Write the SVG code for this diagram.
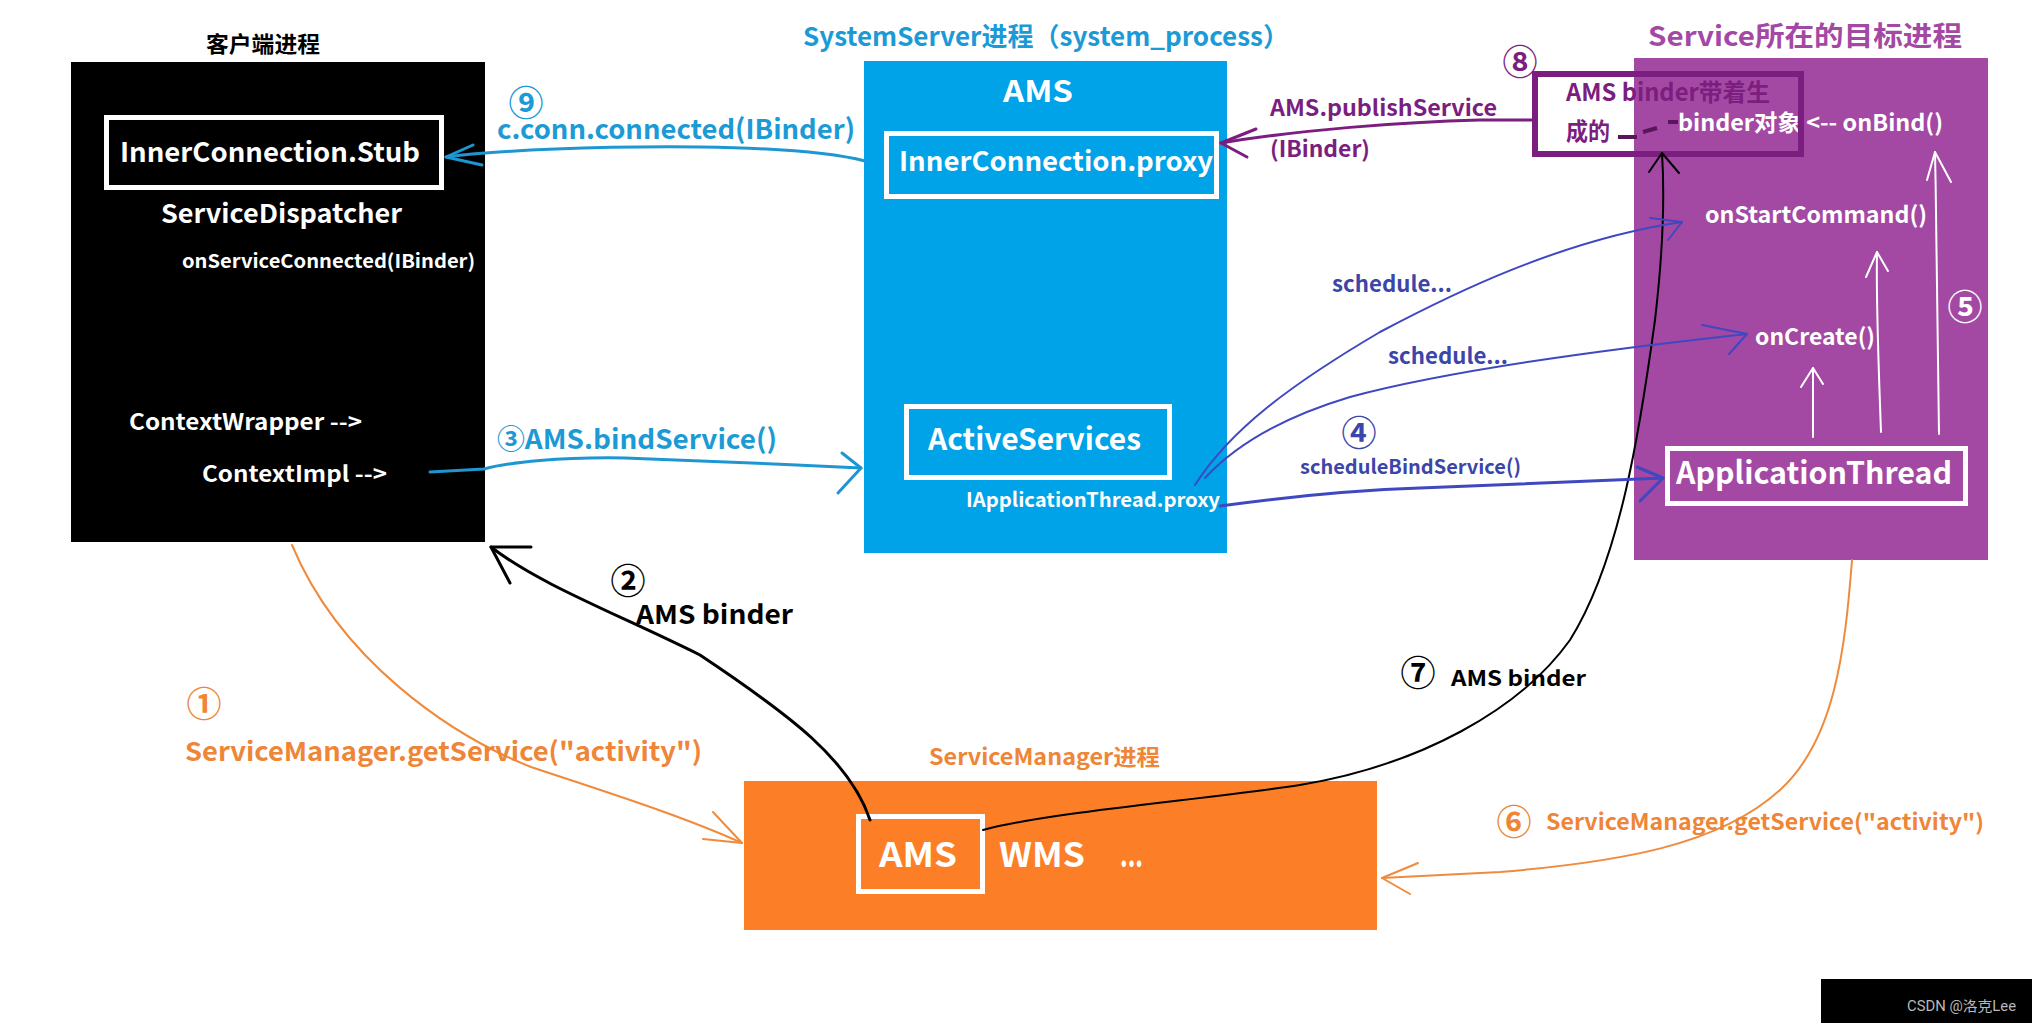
<svg xmlns="http://www.w3.org/2000/svg" width="2032" height="1023" viewBox="0 0 2032 1023">
<style>
.t{font-family:"Noto Sans CJK SC","Noto Sans",sans-serif;font-weight:bold}
.n{font-family:"Noto Sans CJK SC","Noto Sans",sans-serif;font-weight:bold;text-anchor:middle;font-size:35px}
.w{fill:#fff}
.k{fill:#000}
.bl{fill:#1B9AD6}
.or{fill:#EE8537}
.pu{fill:#A349A4}
.dp{fill:#7B1E7F}
.in{fill:#3C45A8}
.c{fill:none;stroke-linecap:round;stroke-linejoin:round}
.cb{stroke:#1E96D2;stroke-width:3}
.ck{stroke:#000;stroke-width:3}
.ck2{stroke:#000;stroke-width:2}
.co{stroke:#F08A3C;stroke-width:2}
.ci{stroke:#3F48C0;stroke-width:2}
.cw{stroke:#fff;stroke-width:2}
.cp{stroke:#7B1E7F;stroke-width:3}
</style>
<rect x="0" y="0" width="2032" height="1023" fill="#fff"/>

<g id="client">
  <text class="t k" x="206" y="52" font-size="22" textLength="114" lengthAdjust="spacingAndGlyphs">客户端进程</text>
  <rect x="71" y="62" width="414" height="480" fill="#000"/>
  <rect x="106.5" y="117.5" width="335" height="70" fill="none" stroke="#fff" stroke-width="5"/>
  <text class="t w" x="120" y="162" font-size="27" textLength="300" lengthAdjust="spacingAndGlyphs">InnerConnection.Stub</text>
  <text class="t w" x="161" y="223" font-size="26" textLength="241" lengthAdjust="spacingAndGlyphs">ServiceDispatcher</text>
  <text class="t w" x="182" y="268" font-size="19" textLength="293" lengthAdjust="spacingAndGlyphs">onServiceConnected(IBinder)</text>
  <text class="t w" x="129" y="430" font-size="22" textLength="233" lengthAdjust="spacingAndGlyphs">ContextWrapper --&gt;</text>
  <text class="t w" x="202" y="482" font-size="22" textLength="185" lengthAdjust="spacingAndGlyphs">ContextImpl --&gt;</text>
</g>

<g id="systemserver">
  <text class="t bl" x="803" y="46" font-size="26" textLength="486" lengthAdjust="spacingAndGlyphs">SystemServer进程（system_process）</text>
  <rect x="864" y="61" width="363" height="492" fill="#00A2E8"/>
  <text class="t w" x="1003" y="102" font-size="30" textLength="70" lengthAdjust="spacingAndGlyphs">AMS</text>
  <rect x="886.5" y="133.5" width="330" height="63" fill="none" stroke="#fff" stroke-width="5"/>
  <text class="t w" x="899" y="171" font-size="27" textLength="314" lengthAdjust="spacingAndGlyphs">InnerConnection.proxy</text>
  <rect x="906.5" y="406.5" width="263" height="71" fill="none" stroke="#fff" stroke-width="5"/>
  <text class="t w" x="928" y="450" font-size="30" textLength="213" lengthAdjust="spacingAndGlyphs">ActiveServices</text>
  <text class="t w" x="966" y="507" font-size="20" textLength="254" lengthAdjust="spacingAndGlyphs">IApplicationThread.proxy</text>
</g>

<g id="target">
  <text class="t pu" x="1648" y="46" font-size="27" textLength="314" lengthAdjust="spacingAndGlyphs">Service所在的目标进程</text>
  <rect x="1634" y="58" width="354" height="502" fill="#A349A4"/>
  <text class="t w" x="1705" y="223" font-size="23" textLength="222" lengthAdjust="spacingAndGlyphs">onStartCommand()</text>
  <text class="t w" x="1755" y="345" font-size="23" textLength="120" lengthAdjust="spacingAndGlyphs">onCreate()</text>
  <text class="n w" x="1965" y="320">⑤</text>
  <rect x="1667.5" y="448.5" width="298" height="55" fill="none" stroke="#fff" stroke-width="5"/>
  <text class="t w" x="1676" y="484" font-size="31" textLength="276" lengthAdjust="spacingAndGlyphs">ApplicationThread</text>
  <text class="t w" x="1678" y="131" font-size="23" textLength="265" lengthAdjust="spacingAndGlyphs">binder对象 &lt;-- onBind()</text>
</g>

<g id="binder-box">
  <rect x="1535" y="74" width="266" height="80" fill="none" stroke="#7B1E7F" stroke-width="6"/>
  <text class="n dp" x="1520" y="75">⑧</text>
  <text class="t dp" x="1566" y="101" font-size="24" textLength="204" lengthAdjust="spacingAndGlyphs">AMS binder带着生</text>
  <text class="t dp" x="1566" y="140" font-size="24" textLength="44" lengthAdjust="spacingAndGlyphs">成的</text>
  <path d="M1618 137 L1637 137 M1643 132 L1657 128 M1668 122 L1678 122" fill="none" stroke="#5A155C" stroke-width="4"/>
</g>

<g id="servicemanager">
  <text class="t or" x="929" y="765" font-size="22" textLength="231" lengthAdjust="spacingAndGlyphs">ServiceManager进程</text>
  <rect x="744" y="781" width="633" height="149" fill="#FC7F28"/>
  <rect x="858.5" y="816.5" width="124" height="75" fill="none" stroke="#fff" stroke-width="5"/>
  <text class="t w" x="879" y="867" font-size="34" textLength="78" lengthAdjust="spacingAndGlyphs">AMS</text>
  <text class="t w" x="999" y="867" font-size="34" textLength="86" lengthAdjust="spacingAndGlyphs">WMS</text>
  <text class="t w" x="1120" y="867" font-size="34" textLength="23" lengthAdjust="spacingAndGlyphs">...</text>
</g>

<g id="connectors">
  <!-- 9 c.conn.connected -->
  <path class="c cb" d="M865 161 C830 152 780 148 700 147 C600 146 500 150 446 157"/>
  <path class="c cb" d="M473 145 L446 157 L482 165"/>
  <!-- 3 bindService -->
  <path class="c cb" d="M430 472 L484 469 C510 462 560 457 625 458 C680 460 780 464 861 468"/>
  <path class="c cb" d="M842 453 L861 468 L838 493"/>
  <!-- 2 AMS binder to client -->
  <path class="c ck" d="M870 820 C850 760 790 715 700 655 C620 615 540 585 491 547"/>
  <path class="c ck" d="M531 547 L491 547 L510 583"/>
  <!-- 1 getService -->
  <path class="c co" d="M292 545 C340 660 450 735 531 767 C600 790 680 815 742 843"/>
  <path class="c co" d="M713 812 L742 843 L703 839"/>
  <!-- 6 getService -->
  <path class="c co" d="M1852 560 C1845 650 1835 740 1780 790 C1720 845 1620 862 1500 872 L1382 878"/>
  <path class="c co" d="M1418 863 L1382 878 L1410 894"/>
  <!-- 7 AMS binder to target -->
  <path class="c ck2" d="M983 830 C1050 812 1200 800 1300 785 C1420 765 1520 710 1570 640 C1620 560 1640 430 1655 320 C1662 260 1665 200 1662 153"/>
  <path class="c ck2" d="M1649 172 L1662 153 L1679 173"/>
  <!-- 8 publishService -->
  <path class="c cp" d="M1535 120 L1480 120 C1400 122 1300 130 1221 143"/>
  <path class="c cp" d="M1256 129 L1221 143 L1247 157"/>
  <!-- schedule... upper -->
  <path class="c ci" d="M1195 485 C1230 430 1290 385 1380 332 C1450 295 1560 240 1682 222"/>
  <path class="c ci" d="M1650 218 L1682 222 L1668 240"/>
  <!-- schedule... lower -->
  <path class="c ci" d="M1205 478 C1240 440 1290 415 1350 397 C1450 370 1600 350 1747 334"/>
  <path class="c ci" d="M1702 325 L1747 334 L1729 354"/>
  <!-- 4 scheduleBindService -->
  <path class="c ci" style="stroke-width:3" d="M1220 506 C1300 495 1360 490 1420 488 L1663 478"/>
  <path class="c ci" style="stroke-width:3" d="M1637 467 L1663 478 L1640 501"/>
  <!-- 5 white arrows -->
  <path class="c cw" d="M1813 437 L1813 368"/>
  <path class="c cw" d="M1801 387 L1813 368 L1823 384"/>
  <path class="c cw" d="M1881 432 C1879 380 1876 300 1877 252"/>
  <path class="c cw" d="M1866 277 L1877 252 L1888 271"/>
  <path class="c cw" d="M1939 434 C1938 350 1937 250 1935 152"/>
  <path class="c cw" d="M1927 180 L1935 152 L1951 182"/>

  <g id="labels">
    <text class="n bl" x="526" y="116">⑨</text>
    <text class="t bl" x="497" y="139" font-size="27" textLength="358" lengthAdjust="spacingAndGlyphs">c.conn.connected(IBinder)</text>
    <text class="t bl" x="497" y="449" font-size="27" textLength="280" lengthAdjust="spacingAndGlyphs">③AMS.bindService()</text>
    <text class="n k" x="628" y="594">②</text>
    <text class="t k" x="636" y="624" font-size="26" textLength="157" lengthAdjust="spacingAndGlyphs">AMS binder</text>
    <text class="n or" x="204" y="717">①</text>
    <text class="t or" x="185" y="761" font-size="26" textLength="517" lengthAdjust="spacingAndGlyphs">ServiceManager.getService("activity")</text>
    <text class="n or" x="1514" y="835">⑥</text>
    <text class="t or" x="1546" y="830" font-size="22" textLength="438" lengthAdjust="spacingAndGlyphs">ServiceManager.getService("activity")</text>
    <text class="n k" x="1418" y="686">⑦</text>
    <text class="t k" x="1451" y="686" font-size="21" textLength="135" lengthAdjust="spacingAndGlyphs">AMS binder</text>
    <text class="t dp" x="1270" y="116" font-size="22" textLength="227" lengthAdjust="spacingAndGlyphs">AMS.publishService</text>
    <text class="t dp" x="1270" y="157" font-size="22" textLength="100" lengthAdjust="spacingAndGlyphs">(IBinder)</text>
    <text class="t in" x="1332" y="292" font-size="22" textLength="120" lengthAdjust="spacingAndGlyphs">schedule...</text>
    <text class="t in" x="1388" y="364" font-size="22" textLength="120" lengthAdjust="spacingAndGlyphs">schedule...</text>
    <text class="n in" x="1359" y="446">④</text>
    <text class="t in" x="1300" y="474" font-size="20" textLength="221" lengthAdjust="spacingAndGlyphs">scheduleBindService()</text>
  </g>
</g>

<g id="watermark">
  <rect x="1821" y="979" width="211" height="44" fill="#000"/>
  <text x="1907" y="1011" font-family="Roboto,'Noto Sans CJK SC',sans-serif" font-size="14" fill="#B8B8B8" textLength="109" lengthAdjust="spacingAndGlyphs">CSDN @洛克Lee</text>
</g>
</svg>
